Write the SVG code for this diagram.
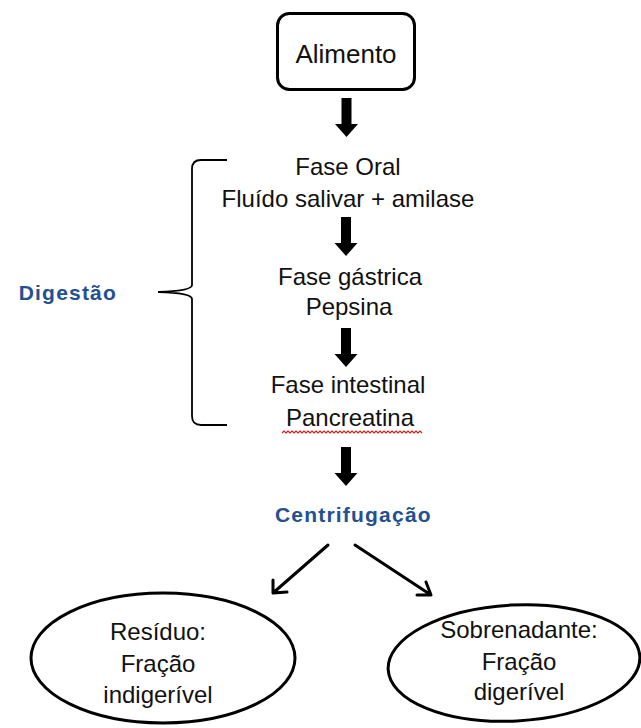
<svg xmlns="http://www.w3.org/2000/svg" width="641" height="728" viewBox="0 0 641 728">
<defs>
<style>
.t{font-family:"Liberation Sans",Arial,sans-serif;font-size:24px;fill:#111;text-anchor:middle}
.b{font-family:"Liberation Sans",Arial,sans-serif;font-size:21px;font-weight:bold;fill:#24508f;letter-spacing:1.2px}
.shape{fill:#fff;stroke:#000;stroke-width:3}
.ln{fill:none;stroke:#000;stroke-width:3;stroke-linecap:round;stroke-linejoin:round}
.brace{fill:none;stroke:#000;stroke-width:1.8}
</style>
<path id="barrow" d="M-5,0 H5 V26 H11.5 L0,39 L-11.5,26 H-5 Z"/>
</defs>
<rect width="641" height="728" fill="#fff"/>
<g id="alimento">
<rect class="shape" x="277.5" y="13.5" width="137" height="76" rx="12"/>
<text class="t" x="346" y="63" style="font-size:26px">Alimento</text>
</g>
<g id="fase-oral">
<text class="t" x="348" y="175">Fase Oral</text>
<text class="t" x="348" y="207">Fluído salivar + amilase</text>
</g>
<g id="fase-gastrica">
<text class="t" x="350" y="285">Fase gástrica</text>
<text class="t" x="349" y="315">Pepsina</text>
</g>
<g id="fase-intestinal">
<text class="t" x="348" y="393">Fase intestinal</text>
<text class="t" x="350" y="426">Pancreatina</text>
<path d="M282,433 l2,-2 l2,2 l2,-2 l2,2 l2,-2 l2,2 l2,-2 l2,2 l2,-2 l2,2 l2,-2 l2,2 l2,-2 l2,2 l2,-2 l2,2 l2,-2 l2,2 l2,-2 l2,2 l2,-2 l2,2 l2,-2 l2,2 l2,-2 l2,2 l2,-2 l2,2 l2,-2 l2,2 l2,-2 l2,2 l2,-2 l2,2 l2,-2 l2,2 l2,-2 l2,2 l2,-2 l2,2 l2,-2 l2,2 l2,-2 l2,2 l2,-2 l2,2 l2,-2 l2,2 l2,-2 l2,2 l2,-2 l2,2 l2,-2 l2,2 l2,-2 l2,2 l2,-2 l2,2 l2,-2 l2,2 l2,-2 l2,2 l2,-2 l2,2 l2,-2 l2,2 l2,-2 l2,2 l2,-2 l2,2" fill="none" stroke="#e01818" stroke-width="1.2"/>
</g>
<g id="digestao">
<path class="brace" d="M227,160 L201,160 Q192,160 192,169 L192,285 Q192,291 158,292 Q192,293 192,299 L192,416 Q192,425 201,425 L227,425"/>
<text class="b" x="117" y="300" text-anchor="end">Digestão</text>
</g>
<g id="centrifugacao">
<text class="b" x="275" y="522">Centrifugação</text>
</g>
<g id="residuo">
<ellipse class="shape" cx="163" cy="658" rx="132" ry="65"/>
<text class="t" x="158" y="640">Resíduo:</text>
<text class="t" x="158" y="672">Fração</text>
<text class="t" x="158" y="703">indigerível</text>
</g>
<g id="sobrenadante">
<ellipse class="shape" cx="514" cy="663" rx="126" ry="58" transform="rotate(-3 514 663)"/>
<text class="t" x="519" y="638">Sobrenadante:</text>
<text class="t" x="519" y="670">Fração</text>
<text class="t" x="519" y="700">digerível</text>
</g>
<g id="connectors">
<use href="#barrow" x="346.5" y="98"/>
<use href="#barrow" x="346" y="217"/>
<use href="#barrow" x="346" y="328"/>
<use href="#barrow" x="346" y="447"/>
<path class="ln" d="M328,545 L273,593 M273,580 L273,593 L287,592"/>
<path class="ln" d="M355,545 L431,595 M417,595 L431,595 L426,582"/>
</g>
</svg>
